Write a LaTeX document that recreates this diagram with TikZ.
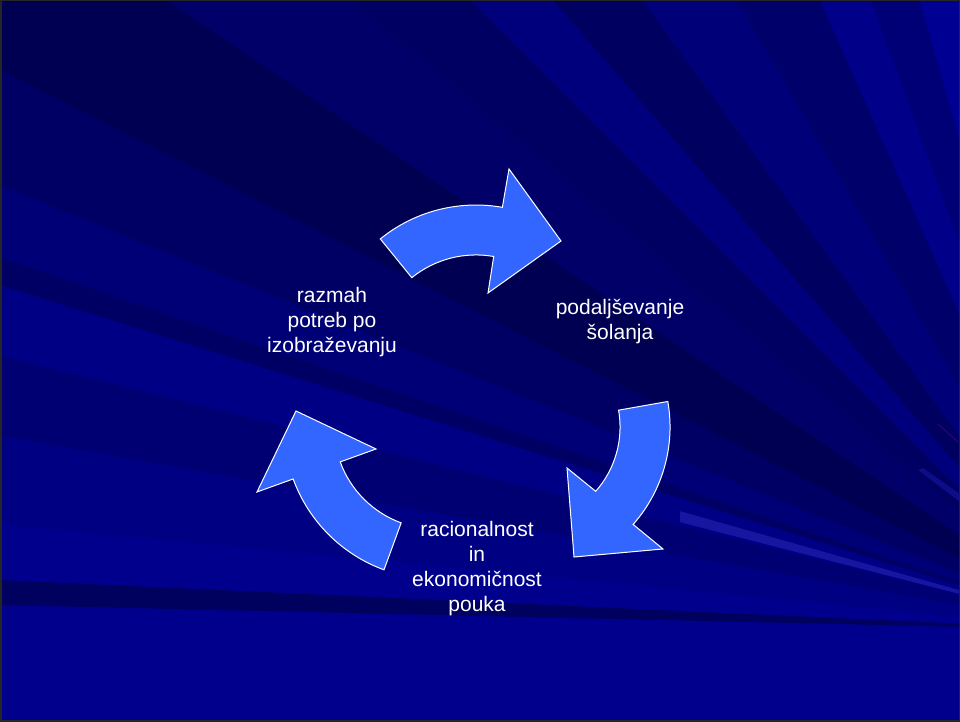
\documentclass[tikz,border=0pt]{standalone}
\usepackage{fontspec}
\setmainfont{Liberation Sans}
\definecolor{bgbase}{RGB}{0,0,140}
\definecolor{arrowblue}{RGB}{51,102,255}
\definecolor{raylight}{RGB}{22,22,160}
\tikzset{
  cyclearrow/.style={fill=arrowblue, draw=white, line width=1pt, line join=miter},
  label/.style={text=white, align=center, font=\fontsize{21}{25}\selectfont, inner sep=0pt},
}
\begin{document}
\begin{tikzpicture}[x=1pt,y=1pt]
\useasboundingbox (0,0) rectangle (960,722);
% background
\begin{scope}
  \clip (0,0) rectangle (960,722);
  \fill[bgbase] (0,0) rectangle (960,722);
  \foreach \a/\b/\c in {
      100/106/{0,0,146},
      106/110/{0,0,118},
      110/114/{0,0,136},
      114/120/{0,0,106},
      120/126/{0,0,120},
      126/131/{0,0,96},
      131/135/{0,0,124},
      135/140/{0,0,98},
      140/146/{0,0,104},
      146/153/{0,0,82},
      153/158/{0,0,100},
      158/161.3/{0,0,118},
      161.3/162.6/{0,0,100},
      162.6/166/{0,0,132},
      166/170/{0,0,114},
      170/174.5/{0,0,130},
      177.4/178.7/{0,0,94}}{
    \definecolor{wedgecol}{RGB}{\c}
    \fill[wedgecol] (1100,92) -- +(\a:1700) -- +(\b:1700) -- cycle;
  }
  \begin{scope}
    \clip (680,0) rectangle (960,722);
    \fill[raylight] (1100,92) -- +(164.2:1700) -- +(165.6:1700) -- cycle;
  \end{scope}
  \fill[raylight, opacity=0.6] (923,254) -- (960,228) -- (960,220) -- (918,252) -- cycle;
  \draw[red!40!blue, opacity=0.6, line width=0.8pt] (938,298) -- (958,280);
\end{scope}
\draw[line width=3pt, black!85] (0,0) rectangle (960,722);
% arrows
\draw[cyclearrow] (380.3,483.1) arc[start angle=129, end angle=80, radius=152]
  -- (509,553) -- (561,481) -- (488,429) -- (493.7,465.5)
  arc[start angle=80, end angle=129, radius=102] -- cycle;
\draw[cyclearrow] (667.8,320.5) arc[start angle=10, end angle=-41.5, radius=147]
  -- (663,173) -- (574,165) -- (567,254) -- (595.7,230.7)
  arc[start angle=-41.5, end angle=10, radius=97] -- cycle;
\draw[cyclearrow] (384,152.2) arc[start angle=250, end angle=200, radius=152]
  -- (257,230) -- (296,311) -- (376,273) -- (340.2,260.1)
  arc[start angle=200, end angle=250, radius=102] -- cycle;
% labels
\node[label] (razmah) at (332,400) {razmah\\potreb po\\izobraževanju};
\node[label] (podalj) at (620,400.7) {podaljševanje\\šolanja};
\node[label] (racio) at (477,153) {racionalnost\\in\\ekonomičnost\\pouka};
\end{tikzpicture}
\end{document}
